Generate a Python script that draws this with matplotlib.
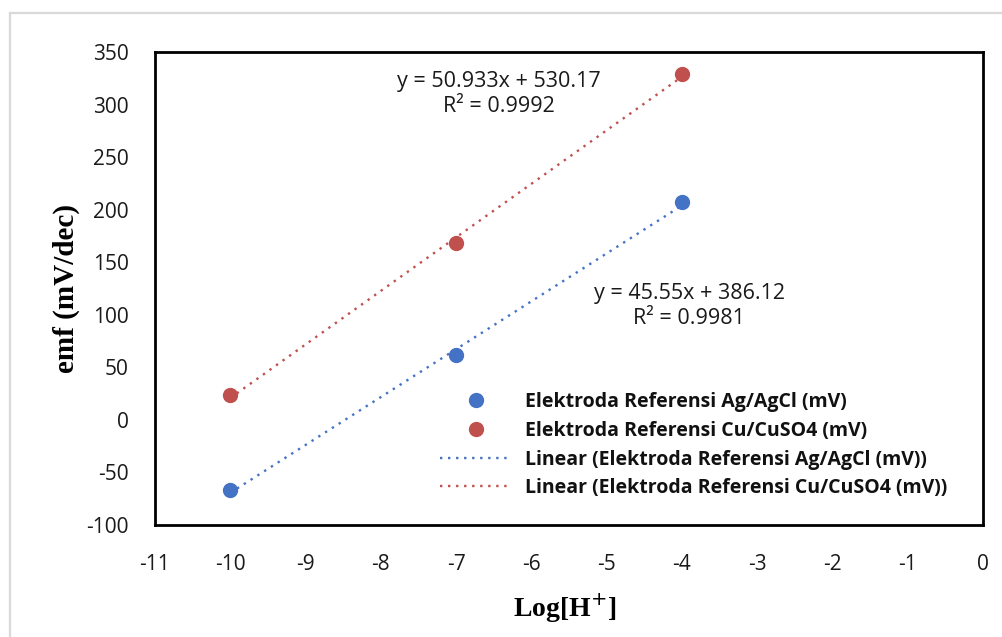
import numpy as np
import matplotlib
matplotlib.use("Agg")
import matplotlib.pyplot as plt
from matplotlib.lines import Line2D

# ---- data ----
log_h = [-10, -7, -4]
emf_agcl = [-66.4, 61.3, 206.9]
emf_cuso4 = [23.4, 168.5, 329.0]
label_agcl = "Elektroda Referensi Ag/AgCl (mV)"
label_cuso4 = "Elektroda Referensi Cu/CuSO4 (mV)"
eq_agcl = "y = 45.55x + 386.12\nR² = 0.9981"
eq_cuso4 = "y = 50.933x + 530.17\nR² = 0.9992"
x_ticks = list(range(-11, 1))
y_ticks = list(range(-100, 351, 50))

blue = "#4472C4"
red = "#C0504D"

W, H = 1002, 637
fig = plt.figure(figsize=(W / 100, H / 100), dpi=100)
fig.patch.set_facecolor("white")

def fx(px):
    return px / W

def fy(py):
    return 1 - py / H

# outer light border (top and left visible)
fig.add_artist(Line2D([fx(10), 1], [fy(13), fy(13)], color="#d9d9d9", lw=1.6))
fig.add_artist(Line2D([fx(10), fx(10)], [fy(13), 0], color="#d9d9d9", lw=1.6))

ax = fig.add_axes([fx(155), fy(525), fx(983) - fx(155), fy(52) - fy(525)])
ax.set_xlim(-11, 0)
ax.set_ylim(-100, 350)
ax.set_xticks(x_ticks)
ax.set_yticks(y_ticks)
ax.set_xticklabels([str(v) for v in x_ticks])
ax.set_yticklabels([str(v) for v in y_ticks])
for sp in ax.spines.values():
    sp.set_linewidth(2.0)
    sp.set_color("black")
ax.tick_params(length=0, labelsize=15, labelcolor="#1a1a1a")
for lab in ax.get_xticklabels() + ax.get_yticklabels():
    lab.set_family("Open Sans")
ax.tick_params(axis="y", pad=19)
ax.tick_params(axis="x", pad=21)

x = np.array(log_h, dtype=float)
dots = (0, (1, 2.4))
sc1, = ax.plot(log_h, emf_agcl, "o", color=blue, ms=10, label=label_agcl, zorder=3)
sc2, = ax.plot(log_h, emf_cuso4, "o", color=red, ms=10, label=label_cuso4, zorder=3)
p1 = np.polyfit(x, emf_agcl, 1)
p2 = np.polyfit(x, emf_cuso4, 1)
xs = np.array([min(log_h), max(log_h)], dtype=float)
ln1, = ax.plot(xs, np.polyval(p1, xs), color=blue, lw=1.7, ls=dots,
               label="Linear (" + label_agcl + ")", zorder=2)
ln2, = ax.plot(xs, np.polyval(p2, xs), color=red, lw=1.7, ls=dots,
               label="Linear (" + label_cuso4 + ")", zorder=2)

ax.text(-6.435, 310.5, eq_cuso4, ha="center", va="center", fontsize=15.5,
        family="Open Sans", linespacing=1.25, color="#1a1a1a")
ax.text(-3.90, 107.9, eq_agcl, ha="center", va="center", fontsize=15.5,
        family="Open Sans", linespacing=1.25, color="#1a1a1a")

leg = fig.legend(handles=[sc1, sc2, ln1, ln2], loc="upper left",
                 bbox_to_anchor=(fx(440), fy(392)), frameon=False,
                 prop={"family": "Open Sans", "weight": "bold", "size": 14},
                 handlelength=3.7, handletextpad=0.65, labelspacing=0.45,
                 borderpad=0, borderaxespad=0)
for t in leg.get_texts():
    t.set_color("#111111")

ax.set_xlabel("Log[H$^{+}$]", family="Liberation Serif", weight="bold", fontsize=20)
ax.set_ylabel("emf (mV/dec)", family="Liberation Serif", weight="bold", fontsize=21)
ax.xaxis.set_label_coords(0.495, -0.14)
ax.yaxis.set_label_coords(-0.09, 0.5)

fig.savefig("out.png", dpi=100)
